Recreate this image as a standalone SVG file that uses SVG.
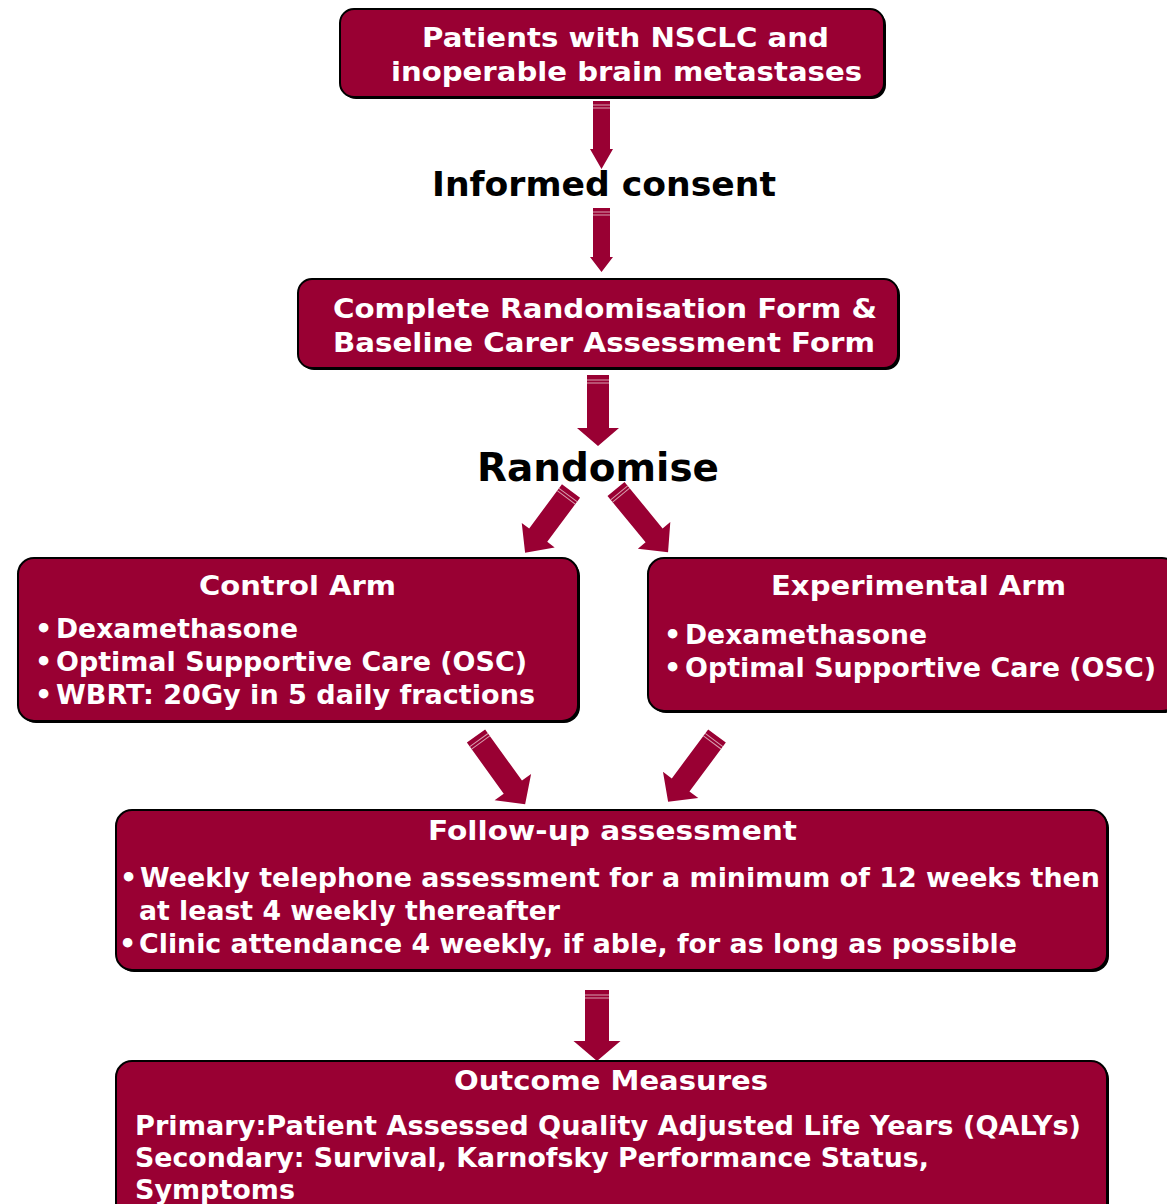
<svg xmlns="http://www.w3.org/2000/svg" width="1167" height="1204" viewBox="0 0 1167 1204">
<defs>
<style>
.box{fill:#990033;stroke:#000;stroke-width:2}
.shadow{fill:#000}
.bt{font-family:"DejaVu Sans",Verdana,sans-serif;font-weight:bold;font-size:27px;fill:#fff}
.lbl{font-family:"DejaVu Sans",Verdana,sans-serif;font-weight:bold;fill:#000}
.arr{fill:#990033}
.hl{stroke:#d9a0b0;stroke-width:1}
</style>
</defs>
<rect width="1167" height="1204" fill="#fff"/>

<g id="connectors">
  <g transform="translate(601.5,101)">
    <path class="arr" d="M-8.5 0H8.5V48H11.5L0 68L-11.5 48H-8.5Z"/>
    <line class="hl" x1="-8.5" y1="4" x2="8.5" y2="4"/><line class="hl" x1="-8.5" y1="7" x2="8.5" y2="7"/>
  </g>
  <g transform="translate(601.5,208)">
    <path class="arr" d="M-8.5 0H8.5V49H11.5L0 64L-11.5 49H-8.5Z"/>
    <line class="hl" x1="-8.5" y1="4" x2="8.5" y2="4"/><line class="hl" x1="-8.5" y1="7" x2="8.5" y2="7"/>
  </g>
  <g transform="translate(598,375)">
    <path class="arr" d="M-11 0H11V53H21L0 71L-21 53H-11Z"/>
    <line class="hl" x1="-11" y1="5" x2="11" y2="5"/><line class="hl" x1="-11" y1="8" x2="11" y2="8"/>
  </g>
  <g transform="translate(571,491) rotate(36.6)">
    <path class="arr" d="M-11.25 0H11.25V55H20.5L0 77L-20.5 55H-11.25Z"/>
    <line class="hl" x1="-11.25" y1="5" x2="11.25" y2="5"/><line class="hl" x1="-11.25" y1="8" x2="11.25" y2="8"/>
  </g>
  <g transform="translate(616,489) rotate(-39.4)">
    <path class="arr" d="M-11 0H11V60H21L0 82L-21 60H-11Z"/>
    <line class="hl" x1="-11" y1="5" x2="11" y2="5"/><line class="hl" x1="-11" y1="8" x2="11" y2="8"/>
  </g>
  <g transform="translate(476,736) rotate(-35.8)">
    <path class="arr" d="M-11.25 0H11.25V63H22.5L0 84L-22.5 63H-11.25Z"/>
    <line class="hl" x1="-11.25" y1="5" x2="11.25" y2="5"/><line class="hl" x1="-11.25" y1="8" x2="11.25" y2="8"/>
  </g>
  <g transform="translate(717,736) rotate(36.6)">
    <path class="arr" d="M-11 0H11V61H22L0 82L-22 61H-11Z"/>
    <line class="hl" x1="-11" y1="5" x2="11" y2="5"/><line class="hl" x1="-11" y1="8" x2="11" y2="8"/>
  </g>
  <g transform="translate(597,990)">
    <path class="arr" d="M-12 0H12V51H23.5L0 71L-23.5 51H-12Z"/>
    <line class="hl" x1="-12" y1="5" x2="12" y2="5"/><line class="hl" x1="-12" y1="8" x2="12" y2="8"/>
  </g>
</g>

<g id="patients">
  <rect class="shadow" x="342" y="11" width="544" height="88" rx="14"/>
  <rect class="box" x="340" y="9" width="544" height="88" rx="14"/>
  <text class="bt" x="422" y="47" font-size="28" textLength="407" lengthAdjust="spacingAndGlyphs">Patients with NSCLC and</text>
  <text class="bt" x="391" y="81" font-size="28" textLength="471" lengthAdjust="spacingAndGlyphs">inoperable brain metastases</text>
</g>

<g id="consent">
  <text class="lbl" x="432" y="196" font-size="33" textLength="344" lengthAdjust="spacingAndGlyphs">Informed consent</text>
</g>

<g id="randomisation-form">
  <rect class="shadow" x="300" y="281" width="600" height="89" rx="14"/>
  <rect class="box" x="298" y="279" width="600" height="89" rx="14"/>
  <text class="bt" x="333" y="318" font-size="28" textLength="544" lengthAdjust="spacingAndGlyphs">Complete Randomisation Form &amp;</text>
  <text class="bt" x="333" y="352" font-size="28" textLength="542" lengthAdjust="spacingAndGlyphs">Baseline Carer Assessment Form</text>
</g>

<g id="randomise">
  <text class="lbl" x="477" y="481" font-size="39" textLength="242" lengthAdjust="spacingAndGlyphs">Randomise</text>
</g>

<g id="control-arm">
  <rect class="shadow" x="20" y="560" width="560" height="163" rx="16"/>
  <rect class="box" x="18" y="558" width="560" height="163" rx="16"/>
  <text class="bt" x="199" y="595" textLength="197" lengthAdjust="spacingAndGlyphs">Control Arm</text>
  <text class="bt" x="35" y="638">•</text>
  <text class="bt" x="56" y="638" textLength="242" lengthAdjust="spacingAndGlyphs">Dexamethasone</text>
  <text class="bt" x="35" y="671">•</text>
  <text class="bt" x="56" y="671" textLength="471" lengthAdjust="spacingAndGlyphs">Optimal Supportive Care (OSC)</text>
  <text class="bt" x="35" y="704">•</text>
  <text class="bt" x="56" y="704" textLength="479" lengthAdjust="spacingAndGlyphs">WBRT: 20Gy in 5 daily fractions</text>
</g>

<g id="experimental-arm">
  <rect class="shadow" x="650" y="560" width="530" height="153" rx="16"/>
  <rect class="box" x="648" y="558" width="530" height="153" rx="16"/>
  <text class="bt" x="771" y="595" textLength="295" lengthAdjust="spacingAndGlyphs">Experimental Arm</text>
  <text class="bt" x="664" y="644">•</text>
  <text class="bt" x="685" y="644" textLength="242" lengthAdjust="spacingAndGlyphs">Dexamethasone</text>
  <text class="bt" x="664" y="677">•</text>
  <text class="bt" x="685" y="677" textLength="471" lengthAdjust="spacingAndGlyphs">Optimal Supportive Care (OSC)</text>
</g>

<g id="follow-up">
  <rect class="shadow" x="118" y="812" width="991" height="160" rx="16"/>
  <rect class="box" x="116" y="810" width="991" height="160" rx="16"/>
  <text class="bt" x="428" y="840" textLength="369" lengthAdjust="spacingAndGlyphs">Follow-up assessment</text>
  <text class="bt" x="120" y="887">•</text>
  <text class="bt" x="140" y="887" textLength="960" lengthAdjust="spacingAndGlyphs">Weekly telephone assessment for a minimum of 12 weeks then</text>
  <text class="bt" x="139" y="920" textLength="421" lengthAdjust="spacingAndGlyphs">at least 4 weekly thereafter</text>
  <text class="bt" x="119" y="953">•</text>
  <text class="bt" x="139" y="953" textLength="878" lengthAdjust="spacingAndGlyphs">Clinic attendance 4 weekly, if able, for as long as possible</text>
</g>

<g id="outcome">
  <rect class="shadow" x="118" y="1063" width="991" height="170" rx="16"/>
  <rect class="box" x="116" y="1061" width="991" height="170" rx="16"/>
  <text class="bt" x="454" y="1090" textLength="314" lengthAdjust="spacingAndGlyphs">Outcome Measures</text>
  <text class="bt" x="135" y="1135" textLength="946" lengthAdjust="spacingAndGlyphs">Primary:Patient Assessed Quality Adjusted Life Years (QALYs)</text>
  <text class="bt" x="135" y="1167" textLength="794" lengthAdjust="spacingAndGlyphs">Secondary: Survival, Karnofsky Performance Status,</text>
  <text class="bt" x="135" y="1199" textLength="160" lengthAdjust="spacingAndGlyphs">Symptoms</text>
</g>
</svg>
